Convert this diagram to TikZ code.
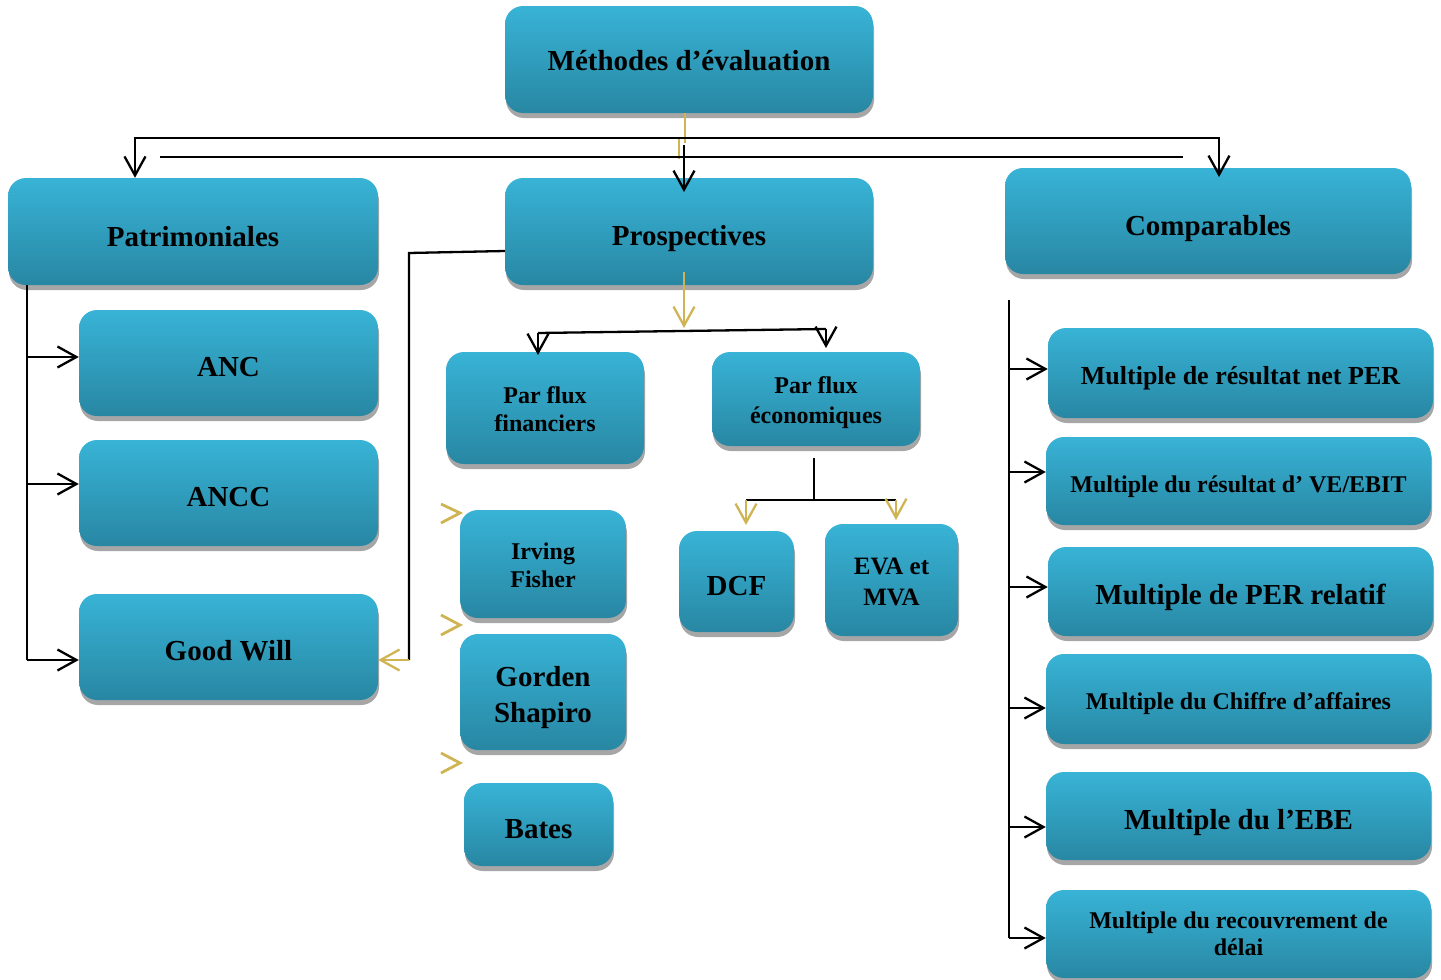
\documentclass[tikz,border=0pt]{standalone}
\usepackage{fontspec}
\setmainfont{Liberation Serif}
\usetikzlibrary{arrows.meta,shadows,calc}
\definecolor{boxtop}{RGB}{56,179,214}
\definecolor{boxbot}{RGB}{40,135,163}
\definecolor{goldc}{RGB}{207,180,84}
\newcommand{\fA}{\fontsize{29}{36}\selectfont}
\newcommand{\fB}{\fontsize{24}{28}\selectfont}
\newcommand{\fC}{\fontsize{24}{30}\selectfont}
\newcommand{\fD}{\fontsize{26}{30}\selectfont}
\newcommand{\up}[1]{\rule{0pt}{#1pt}}
\begin{document}
\begin{tikzpicture}[x=1pt,y=-1pt,
  cbox/.style={rounded corners=18pt, top color=boxtop, bottom color=boxbot, draw=none,
    inner sep=0pt, align=center,
    general shadow={fill=black!35, shadow xshift=1pt, shadow yshift=-5pt}},
  th/.style={text height=#1pt, text depth=0pt},
  conn/.style={line width=2.3pt, black},
  arr/.style={conn, -{Straight Barb[length=19pt,width=21pt]}},
  garr/.style={line width=2.3pt, goldc, -{Straight Barb[length=19pt,width=21pt]}},
  gold/.style={line width=2.3pt, goldc},
  chev/.style={line width=2.8pt, goldc}]
\useasboundingbox (0,0) rectangle (1441,980);
% level 0
\node[cbox, minimum width=368pt, minimum height=107pt, font=\bfseries\fA, th=21] (meth) at (689,59.5) {Méthodes d’évaluation};
% level 1
\node[cbox, minimum width=370pt, minimum height=107pt, font=\bfseries\fA, th=29] (pat) at (193,231.5) {Patrimoniales};
\node[cbox, minimum width=368pt, minimum height=107pt, font=\bfseries\fA, th=27] (pro) at (689,231.5) {Prospectives};
\node[cbox, minimum width=406pt, minimum height=106pt, font=\bfseries\fA, th=29] (comp) at (1208,221) {Comparables};
% patrimoniales
\node[cbox, minimum width=299pt, minimum height=106pt, font=\bfseries\fA, th=27] (anc) at (228.5,363) {ANC};
\node[cbox, minimum width=299pt, minimum height=106pt, font=\bfseries\fA, th=27] (ancc) at (228.5,493) {ANCC};
\node[cbox, minimum width=299pt, minimum height=106pt, font=\bfseries\fA, th=27] (gw) at (228.5,647) {Good Will};
% prospectives
\node[cbox, minimum width=198pt, minimum height=112pt, font=\bfseries\fB] (pff) at (545,408) {\up{20}Par flux\\financiers};
\node[cbox, minimum width=208pt, minimum height=94pt, font=\bfseries\fC] (pfe) at (816,399) {\up{24}Par flux\\économiques};
\node[cbox, minimum width=166pt, minimum height=108pt, font=\bfseries\fB] (irv) at (543,564) {\up{20}Irving\\Fisher};
\node[cbox, minimum width=166pt, minimum height=116pt, font=\bfseries\fA] (gor) at (543,692) {\up{32}Gorden\\Shapiro};
\node[cbox, minimum width=149pt, minimum height=83pt, font=\bfseries\fA, th=27] (bat) at (538.5,824.5) {Bates};
\node[cbox, minimum width=115pt, minimum height=101pt, font=\bfseries\fA, th=27] (dcf) at (736.5,581.5) {DCF};
\node[cbox, minimum width=133pt, minimum height=112pt, font=\bfseries\fontsize{25}{31}\selectfont] (eva) at (891.5,580) {\up{21}EVA et\\MVA};
% comparables
\node[cbox, minimum width=385pt, minimum height=90pt, font=\bfseries\fD, th=22] (m1) at (1240.5,373) {Multiple de résultat net PER};
\node[cbox, minimum width=385pt, minimum height=88pt, font=\bfseries\fB, th=23] (m2) at (1238.5,481) {Multiple du résultat d’ VE/EBIT};
\node[cbox, minimum width=385pt, minimum height=89pt, font=\bfseries\fA, th=25] (m3) at (1240.5,591.5) {Multiple de PER relatif};
\node[cbox, minimum width=385pt, minimum height=90pt, font=\bfseries\fB, th=21] (m4) at (1238.5,699) {Multiple du Chiffre d’affaires};
\node[cbox, minimum width=385pt, minimum height=88pt, font=\bfseries\fA, th=27] (m5) at (1238.5,816) {Multiple du l’EBE};
\node[cbox, minimum width=385pt, minimum height=88pt, font=\bfseries\fontsize{24}{27}\selectfont] (m6) at (1238.5,934) {Multiple du recouvrement de\\délai};
% ---- connectors ----
\coordinate (tm) at (685,138);
\coordinate (tl) at (135,138);
\coordinate (tr) at (1219,138);
\draw[gold] (meth.south -| tm) -- (685,143);
\draw[gold] (679,139) -- (679,159);
\draw[arr] (tm) -- (tl) -- (tl |- pat.north);
\draw[arr] (tm) -- (tr) -- (1219,177);
\draw[conn] (160,157) -- (1183,157);
\draw[arr] (684,145) -- (684,192);
% prospectives
\draw[garr] (684,272) -- (684,328);
\coordinate (pl) at (538,333);
\coordinate (pr) at (826,329);
\draw[conn] (pl) -- (pr);
\draw[arr] (pl) -- (538,355);
\draw[arr] (pr) -- (826,348);
\coordinate (gwc) at (409,660);
\draw[conn] (pro.west |- 0,251) -- (409,253) -- (gwc);
\draw[garr] (gwc) -- (gw.east |- gwc);
% chevrons
\draw[chev] (441,504) -- (460,513) -- (441,523);
\draw[chev] (441,615) -- (460,625) -- (441,635);
\draw[chev] (441,753) -- (460,763) -- (441,773);
% economiques
\coordinate (eb) at (814,500);
\draw[conn] (pfe.south -| eb) ++(0,12) -- (eb);
\draw[conn] (746,500) -- (896,500);
\draw[garr] (746,500) -- (746,525);
\draw[garr] (896,500) -- (896,520);
% patrimoniales
\coordinate (lt) at (27,285);
\coordinate (lb) at (27,660);
\draw[conn] (lt) -- (lb);
\draw[arr] (27,357) -- (anc.west |- 0,357);
\draw[arr] (27,484) -- (ancc.west |- 0,484);
\draw[arr] (lb) -- (gw.west |- lb);
% comparables
\coordinate (rt) at (1009,300);
\coordinate (rb) at (1009,938);
\draw[conn] (rt) -- (rb);
\draw[arr] (1009,369) -- (m1.west |- 0,369);
\draw[arr] (1009,472) -- (m2.west |- 0,472);
\draw[arr] (1009,587) -- (m3.west |- 0,587);
\draw[arr] (1009,708) -- (m4.west |- 0,708);
\draw[arr] (1009,827) -- (m5.west |- 0,827);
\draw[arr] (rb) -- (m6.west |- rb);
\end{tikzpicture}
\end{document}
